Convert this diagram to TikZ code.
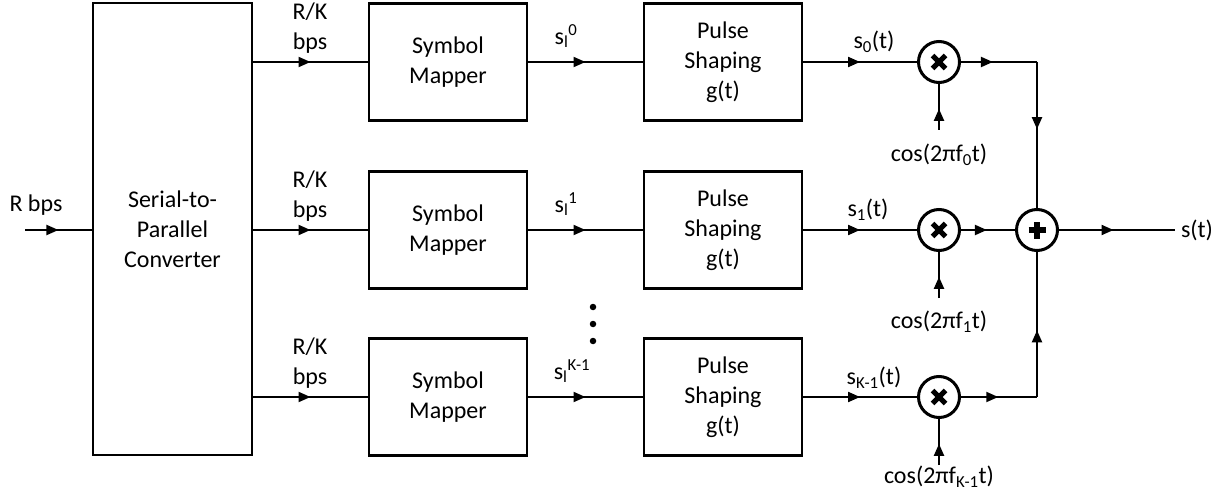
\documentclass[tikz,border=0pt]{standalone}
\usepackage{fontspec}
\setmainfont{Carlito}
\usetikzlibrary{arrows.meta,decorations.markings}
\tikzset{
  blk/.style={draw,line width=2.2pt,minimum width=158pt,minimum height=117pt,align=center,inner sep=0pt},
  op/.style={draw,circle,line width=3pt,minimum size=41pt,inner sep=0pt},
  mulop/.style={op,path picture={
      \draw[line width=5pt] ([shift={(-6.5pt,-6.5pt)}]path picture bounding box.center) -- ([shift={(6.5pt,6.5pt)}]path picture bounding box.center);
      \draw[line width=5pt] ([shift={(-6.5pt,6.5pt)}]path picture bounding box.center) -- ([shift={(6.5pt,-6.5pt)}]path picture bounding box.center);}},
  addop/.style={op,path picture={
      \draw[line width=5.5pt] ([shift={(-8.5pt,0pt)}]path picture bounding box.center) -- ([shift={(8.5pt,0pt)}]path picture bounding box.center);
      \draw[line width=5.5pt] ([shift={(0pt,-8.5pt)}]path picture bounding box.center) -- ([shift={(0pt,8.5pt)}]path picture bounding box.center);}},
  midarrow/.style={postaction={decorate,decoration={markings,
      mark=at position #1 with {\arrow{Triangle[length=12pt,width=10pt]}}}}},
  midarrow/.default=0.5,
  lbl/.style={inner sep=0pt,align=center},
  dot/.style={circle,fill,inner sep=0pt,minimum size=6.5pt}
}
\begin{document}
\begin{tikzpicture}[x=1pt,y=-1pt,font=\fontsize{24}{30}\selectfont,line width=2pt]
\useasboundingbox (0,0) rectangle (1228,497);

% serial-to-parallel
\node[blk,minimum width=159pt,minimum height=452pt] (sp) at (172.5,229) {Serial-to-\\Parallel\\Converter};
\coordinate (in) at (25,230);
\node[lbl] (rbps) at (36,205) {R bps};
\draw[midarrow] (in) -- (in -| sp.west);

% rows
\foreach \i/\r in {0/62,1/230,2/397}{
  \node[blk] (map\i) at (448,\r) {Symbol\\Mapper};
  \node[blk] (ps\i) at (723,\r) {Pulse\\Shaping\\g(t)};
  \node[mulop] (m\i) at (939,\r) {};
  \coordinate (c\i) at (939,\r+68);
  \node[lbl,anchor=south] (rk\i) at (310,\r-8) {R/K\\bps};
  \draw[midarrow] (sp.east |- map\i) -- (map\i);
  \draw[midarrow] (map\i) -- (ps\i);
  \draw[midarrow] (ps\i) -- (m\i);
  \draw[midarrow=0.46] (c\i) -- (m\i.south);
}

\node[lbl] (sl0) at (566,36) {s\textsubscript{l}\textsuperscript{0}};
\node[lbl] (sl1) at (566,204) {s\textsubscript{l}\textsuperscript{1}};
\node[lbl] (sl2) at (572,371) {s\textsubscript{l}\textsuperscript{K-1}};

\node[lbl] (s0) at (874,42) {s\textsubscript{0}(t)};
\node[lbl] (s1) at (868,210) {s\textsubscript{1}(t)};
\node[lbl] (s2) at (874,378) {s\textsubscript{K-1}(t)};

\node[lbl] (cos0) at (939,155) {cos(2πf\textsubscript{0}t)};
\node[lbl] (cos1) at (939,322) {cos(2πf\textsubscript{1}t)};
\node[lbl] (cos2) at (939,477) {cos(2πf\textsubscript{K-1}t)};

% dots
\node[dot] (d1) at (593,307) {};
\node[dot] (d2) at (593,324) {};
\node[dot] (d3) at (593,341) {};

% adder
\node[addop] (add) at (1037,230) {};
\coordinate (j0) at (1037,62);
\coordinate (j2) at (1037,397);
\draw[midarrow=0.42] (m0.east) -- (j0);
\draw[midarrow=0.46] (j0) -- (add.north);
\draw[midarrow=0.48] (m1.east) -- (add.west);
\draw[midarrow=0.49] (m2.east) -- (j2);
\draw[midarrow=0.46] (j2) -- (add.south);

\coordinate (out) at (1175,230);
\draw[midarrow=0.47] (add.east) -- (out);
\node[lbl,anchor=west] (st) at (1180,230) {s(t)};
\end{tikzpicture}
\end{document}
